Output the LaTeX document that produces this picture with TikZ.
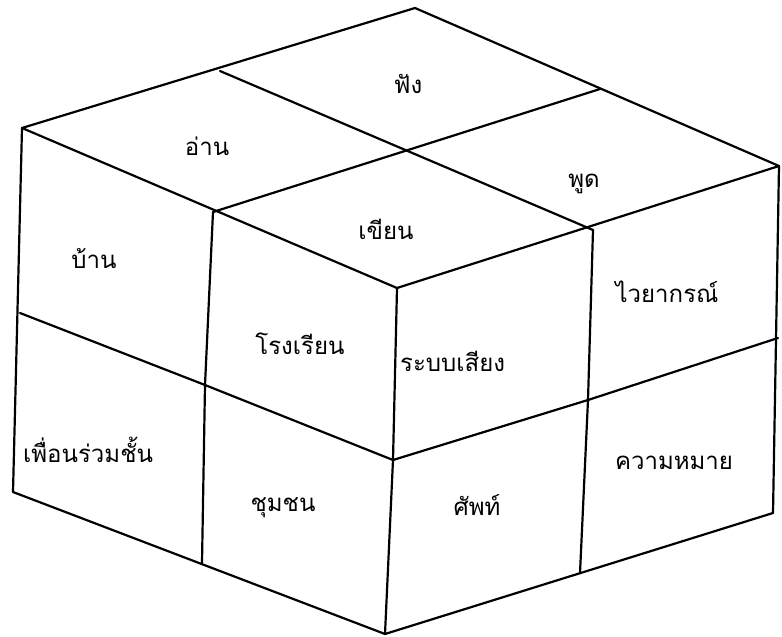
\documentclass[tikz,border=0pt]{standalone}
\usepackage{fontspec}
\usepackage{tikz}
\newfontfamily\thaifont[Script=Thai]{Loma}

\begin{document}
\begin{tikzpicture}[
    x=1pt, y=-1pt,
    font=\thaifont\fontsize{24}{28}\selectfont,
    edge/.style={draw=black, line width=2.2pt, line join=round, line cap=round},
    lbl/.style={inner sep=0pt, anchor=center},
  ]
    \useasboundingbox (0,0) rectangle (782,637);

    % top face
    \coordinate (tl) at (22,128);
    \coordinate (tb) at (415,8);
    \coordinate (tr) at (779,166);
    \coordinate (tf) at (397,288);
    \coordinate (tlb) at (220,71);
    \coordinate (tbr) at (600,89);
    \coordinate (tlf) at (213,212);
    \coordinate (tfr) at (593,230);
    \coordinate (tc) at (403,149);
    % left face
    \coordinate (lm) at (20,313);
    \coordinate (lb) at (13,492);
    \coordinate (lc) at (205,385);
    \coordinate (lbm) at (202,563);
    % front edge
    \coordinate (fm) at (393,460);
    \coordinate (fb) at (385,634);
    % right face
    \coordinate (rm) at (778,338);
    \coordinate (rb) at (773,513);
    \coordinate (rc) at (588,400);
    \coordinate (rbm) at (580,573);

    \draw[edge] (tl) -- (tb) -- (tr) -- (tf) -- cycle;
    \draw[edge] (tlb) -- (tfr);
    \draw[edge] (tbr) -- (tlf);
    \draw[edge] (tl) -- (lb) -- (fb) -- (rb) -- (tr);
    \draw[edge] (tf) -- (fm) -- (fb);
    \draw[edge] (tlf) -- (lc) -- (lbm);
    \draw[edge] (lm) -- (lc) -- (fm);
    \draw[edge] (tfr) -- (rc) -- (rbm);
    \draw[edge] (fm) -- (rc) -- (rm);

    \node[lbl] (fang) at (408,84) {ฟัง};
    \node[lbl] (aan) at (207,146) {อ่าน};
    \node[lbl] (phut) at (584,184) {พูด};
    \node[lbl] (khian) at (386,229) {เขียน};
    \node[lbl] (baan) at (94,259) {บ้าน};
    \node[lbl] (rongrian) at (300,344) {โรงเรียน};
    \node[lbl, anchor=west] (rabopsiang) at (400,361) {ระบบเสียง};
    \node[lbl] (waiyakon) at (667,292) {ไวยากรณ์};
    \node[lbl, anchor=west] (phuean) at (23,450) {เพื่อนร่วมชั้น};
    \node[lbl] (chumchon) at (283,508) {ชุมชน};
    \node[lbl] (sap) at (477,505) {ศัพท์};
    \node[lbl] (khwammai) at (674,463) {ความหมาย};
  \end{tikzpicture}
\end{document}
